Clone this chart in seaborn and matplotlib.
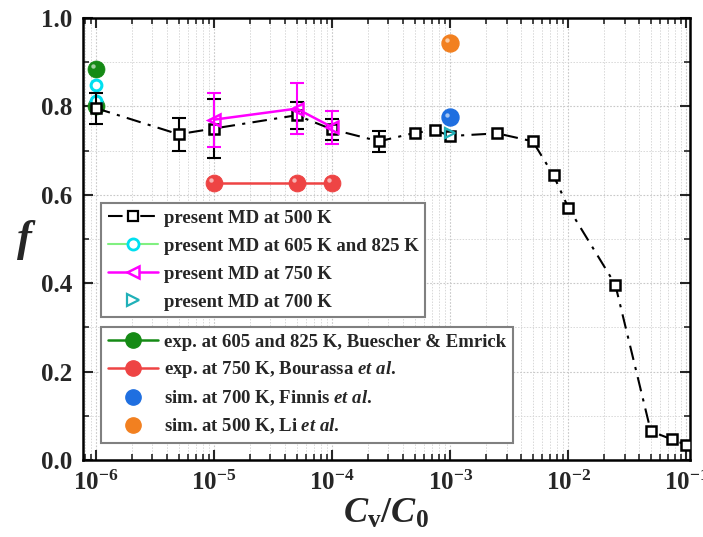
import numpy as np
import pandas as pd
import matplotlib
matplotlib.use("Agg")
import matplotlib.pyplot as plt
import matplotlib.transforms as mtransforms
from matplotlib.lines import Line2D
from matplotlib.ticker import LogLocator, MultipleLocator, NullFormatter
import seaborn as sns

# ---------------- data ----------------
md500_x = [1e-6, 5e-6, 1e-5, 5e-5, 1e-4, 2.5e-4, 5e-4, 7.5e-4, 1e-3, 2.5e-3,
           5e-3, 7.5e-3, 1e-2, 2.5e-2, 5e-2, 7.5e-2, 1e-1]
md500_f = [0.796, 0.737, 0.750, 0.780, 0.748, 0.721, 0.740, 0.746, 0.733, 0.739,
           0.721, 0.644, 0.571, 0.397, 0.065, 0.047, 0.034]
md500_err = [0.035, 0.037, 0.066, 0.030, 0.023, 0.024, 0, 0, 0, 0,
             0, 0, 0, 0, 0, 0, 0]

md605_x = [1e-6, 1e-6]
md605_f = [0.848, 0.812]

md750_x = [1e-5, 5e-5, 1e-4]
md750_f = [0.770, 0.795, 0.753]
md750_err = [0.061, 0.057, 0.037]

md700_x = [1e-3]
md700_f = [0.740]

exp605_x = [1e-6, 1e-6]
exp605_f = [0.885, 0.800]

exp750_x = [1e-5, 5e-5, 1e-4]
exp750_f = [0.627, 0.627, 0.627]

finnis_x = [1e-3]
finnis_f = [0.775]

li_x = [1e-3]
li_f = [0.943]

labels1 = ["present MD at 500 K", "present MD at 605 K and 825 K",
           "present MD at 750 K", "present MD at 700 K"]
labels2 = ["exp. at 605 and 825 K, Buescher & Emrick",
           "exp. at 750 K, Bourassa $\\mathbfit{et\\ al}$.",
           "sim. at 700 K, Finnis $\\mathbfit{et\\ al}$.",
           "sim. at 500 K, Li $\\mathbfit{et\\ al}$."]
xtick_vals = [1e-6, 1e-5, 1e-4, 1e-3, 1e-2, 1e-1]
ytick_vals = [0.0, 0.2, 0.4, 0.6, 0.8, 1.0]

# ---------------- style ----------------
sns.set_theme(style="ticks")
plt.rcParams["font.family"] = ["Liberation Serif", "DejaVu Serif"]
plt.rcParams["font.weight"] = "bold"
plt.rcParams["mathtext.fontset"] = "custom"
plt.rcParams["mathtext.rm"] = "Liberation Serif:bold"
plt.rcParams["mathtext.it"] = "Liberation Serif:italic:bold"
plt.rcParams["mathtext.bfit"] = "Liberation Serif:italic:bold"
plt.rcParams["mathtext.bf"] = "Liberation Serif:bold"

C_BLACK = "black"
C_CYAN = "#00E0F0"
C_LGREEN = "#80F080"
C_MAG = "#FF00FF"
C_TEAL = "#20B0B8"
C_GREEN = "#158a15"
C_RED = "#EE4444"
C_BLUE = "#1f6fe0"
C_ORANGE = "#F28020"

fig = plt.figure(figsize=(7.03, 5.37), dpi=100)
ax = fig.add_axes([83 / 703, 1 - 460 / 537, (690 - 83) / 703, (460 - 18) / 537])

ax.set_xscale("log")

# grid
ax.grid(True, which="major", color="#c8c8c8", linestyle=(0, (1.5, 1.5)), linewidth=0.8)
ax.grid(True, which="minor", color="#d8d8d8", linestyle=(0, (1.5, 1.5)), linewidth=0.7)
ax.set_axisbelow(True)

# experimental / other sim points
df_exp605 = pd.DataFrame({"x": exp605_x, "f": exp605_f})
sns.scatterplot(data=df_exp605, x="x", y="f", ax=ax, color=C_GREEN, s=150,
                edgecolor=C_GREEN, linewidth=0.5, zorder=3)
df_exp750 = pd.DataFrame({"x": exp750_x, "f": exp750_f})
sns.lineplot(data=df_exp750, x="x", y="f", ax=ax, color=C_RED, linewidth=1.8,
             marker="o", markersize=12, markeredgecolor=C_RED, zorder=3)
sns.scatterplot(data=pd.DataFrame({"x": finnis_x, "f": finnis_f}), x="x", y="f",
                ax=ax, color=C_BLUE, s=150, edgecolor=C_BLUE, zorder=3)
sns.scatterplot(data=pd.DataFrame({"x": li_x, "f": li_f}), x="x", y="f",
                ax=ax, color=C_ORANGE, s=150, edgecolor=C_ORANGE, zorder=3)
# highlights for sphere look
hl = mtransforms.offset_copy(ax.transData, fig=fig, x=-2, y=2, units="points")
for xs, fs in [(exp605_x, exp605_f), (exp750_x, exp750_f), (finnis_x, finnis_f), (li_x, li_f)]:
    ax.scatter(xs, fs, s=10, color="white", alpha=0.6, zorder=3.5, linewidths=0,
               transform=hl)

# present MD 605/825 K
sns.scatterplot(data=pd.DataFrame({"x": md605_x, "f": md605_f}), x="x", y="f", ax=ax,
                marker="o", s=60, facecolor="white", edgecolor=C_CYAN, linewidth=2.2, zorder=4)

# present MD 500 K
df500 = pd.DataFrame({"x": md500_x, "f": md500_f})
sns.lineplot(data=df500, x="x", y="f", ax=ax, color=C_BLACK, linewidth=1.5,
             dashes=False, zorder=5)
ax.lines[-1].set_linestyle((0, (7, 3.5, 1.5, 3.5)))
ax.errorbar([x for x, e in zip(md500_x, md500_err) if e > 0],
            [f for f, e in zip(md500_f, md500_err) if e > 0],
            yerr=[e for e in md500_err if e > 0], fmt="none", ecolor=C_BLACK,
            elinewidth=1.5, capsize=5, capthick=1.5, zorder=5)
ax.plot(md500_x, md500_f, linestyle="none", marker="s", markersize=7.5,
        markerfacecolor="white", markeredgecolor=C_BLACK, markeredgewidth=1.8, zorder=6)

# present MD 750 K
df750 = pd.DataFrame({"x": md750_x, "f": md750_f})
sns.lineplot(data=df750, x="x", y="f", ax=ax, color=C_MAG, linewidth=1.8, zorder=7)
ax.errorbar(md750_x, md750_f, yerr=md750_err, fmt="none", ecolor=C_MAG,
            elinewidth=1.5, capsize=5, capthick=1.5, zorder=7)
ax.plot(md750_x, md750_f, linestyle="none", marker="<", markersize=9,
        markerfacecolor="none", markeredgecolor=C_MAG, markeredgewidth=1.8, zorder=8)

# present MD 700 K
ax.plot(md700_x, md700_f, linestyle="none", marker=">", markersize=7,
        markerfacecolor="none", markeredgecolor=C_TEAL, markeredgewidth=1.6, zorder=8)

# ---------------- axes ----------------
ax.set_xlim(10 ** -6.11, 10 ** -0.969)
ax.set_ylim(0, 1.0)
ax.set_xticks(xtick_vals)
ax.set_xticklabels([f"$\\mathbf{{10^{{{int(np.log10(v))}}}}}$" for v in xtick_vals])
ax.xaxis.set_minor_locator(LogLocator(base=10, subs=np.arange(2, 10), numticks=20))
ax.xaxis.set_minor_formatter(NullFormatter())
ax.set_yticks(ytick_vals)
ax.set_yticklabels([f"{v:.1f}" for v in ytick_vals])
ax.yaxis.set_minor_locator(MultipleLocator(0.1))

ax.tick_params(which="major", direction="in", length=7, width=1.5, top=True, right=True,
               labelsize=18, pad=8)
ax.tick_params(which="minor", direction="in", length=4, width=1.2, top=True, right=True)
for lab in ax.get_xticklabels() + ax.get_yticklabels():
    lab.set_fontweight("bold")
for sp in ax.spines.values():
    sp.set_linewidth(1.8)
    sp.set_color("black")

ax.set_xlabel("$\\mathbfit{C}_{\\mathbf{v}}\\mathbf{/}\\mathbfit{C}_{\\mathbf{0}}$",
              fontsize=26, labelpad=2)
ax.set_ylabel("$\\mathbfit{f}$", fontsize=32, rotation=0, ha="center", va="center")
ax.yaxis.set_label_coords((26 - 83) / 607, (460 - 240) / 442)

# ---------------- legends ----------------
h1 = [
    Line2D([], [], color=C_BLACK, linewidth=1.5, linestyle=(0, (7, 3.5, 1.5, 3.5)),
           marker="s", markersize=7, markerfacecolor="white", markeredgewidth=1.6),
    Line2D([], [], color=C_LGREEN, linewidth=1.5, marker="o", markersize=8,
           markerfacecolor="white", markeredgecolor=C_CYAN, markeredgewidth=2),
    Line2D([], [], color=C_MAG, linewidth=1.8, marker="<", markersize=9,
           markerfacecolor="white", markeredgecolor=C_MAG, markeredgewidth=1.8),
    Line2D([], [], color=C_TEAL, linestyle="none", marker=">", markersize=8,
           markerfacecolor="white", markeredgecolor=C_TEAL, markeredgewidth=1.6),
]
h2 = [
    Line2D([], [], color=C_GREEN, linewidth=1.8, marker="o", markersize=11),
    Line2D([], [], color=C_RED, linewidth=1.8, marker="o", markersize=11),
    Line2D([], [], color=C_BLUE, linestyle="none", marker="o", markersize=11),
    Line2D([], [], color=C_ORANGE, linestyle="none", marker="o", markersize=11),
]
legkw = dict(loc="upper left", bbox_transform=fig.transFigure, fancybox=False,
             framealpha=1, edgecolor="#808080", handlelength=2.7, handletextpad=0.3,
             borderpad=0.35, borderaxespad=0,
             prop={"family": "Liberation Serif", "weight": "bold", "size": 13.5})
leg1 = ax.legend(h1, labels1, bbox_to_anchor=(101 / 703, 1 - 203 / 537),
                 labelspacing=0.58, **legkw)
leg1.get_frame().set_linewidth(1.5)
ax.add_artist(leg1)
leg2 = ax.legend(h2, labels2, bbox_to_anchor=(101 / 703, 1 - 327 / 537),
                 labelspacing=0.45, **legkw)
leg2.get_frame().set_linewidth(1.5)
leg1.set_zorder(10)
leg2.set_zorder(10)

fig.savefig("out.png", dpi=100)
